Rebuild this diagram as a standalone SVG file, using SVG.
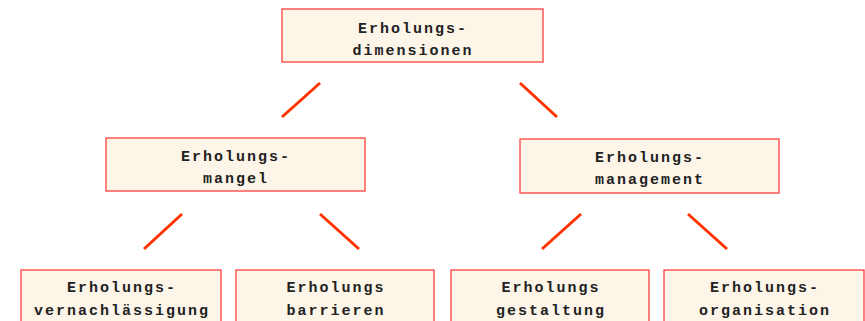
<svg xmlns="http://www.w3.org/2000/svg" width="865" height="321" viewBox="0 0 865 321">
<style>
.box{fill:#fdf6e8;stroke:#ff4040;stroke-width:1.3}
.t{font-family:"Liberation Mono","DejaVu Sans Mono",monospace;font-weight:bold;font-size:15px;letter-spacing:2px;fill:#222;text-anchor:middle}
.c{stroke:#ff3300;stroke-width:3;fill:none}
</style>
<rect width="865" height="321" fill="#fff"/>
<g id="connectors">
<line class="c" x1="320" y1="83" x2="282" y2="117"/>
<line class="c" x1="520" y1="83" x2="557" y2="117"/>
<line class="c" x1="182" y1="214" x2="144" y2="249"/>
<line class="c" x1="320" y1="214" x2="359" y2="249"/>
<line class="c" x1="581" y1="214" x2="542" y2="249"/>
<line class="c" x1="688" y1="214" x2="727" y2="249"/>
</g>
<g id="n-dimensionen">
<rect class="box" x="282" y="9" width="261" height="53"/>
<text class="t" x="413" y="33">Erholungs-</text>
<text class="t" x="413" y="55">dimensionen</text>
</g>
<g id="n-mangel">
<rect class="box" x="106" y="138" width="259" height="53"/>
<text class="t" x="236" y="161">Erholungs-</text>
<text class="t" x="236" y="183">mangel</text>
</g>
<g id="n-management">
<rect class="box" x="520" y="139" width="259" height="54"/>
<text class="t" x="650" y="162">Erholungs-</text>
<text class="t" x="650" y="184">management</text>
</g>
<g id="n-vernachlaessigung">
<rect class="box" x="21" y="270" width="200" height="60"/>
<text class="t" x="122" y="292">Erholungs-</text>
<text class="t" x="122" y="315">vernachlässigung</text>
</g>
<g id="n-barrieren">
<rect class="box" x="236" y="270" width="198" height="60"/>
<text class="t" x="336" y="292">Erholungs</text>
<text class="t" x="336" y="315">barrieren</text>
</g>
<g id="n-gestaltung">
<rect class="box" x="451" y="270" width="198" height="60"/>
<text class="t" x="551" y="292">Erholungs</text>
<text class="t" x="551" y="315">gestaltung</text>
</g>
<g id="n-organisation">
<rect class="box" x="664" y="270" width="200" height="60"/>
<text class="t" x="765" y="292">Erholungs-</text>
<text class="t" x="765" y="315">organisation</text>
</g>
</svg>
